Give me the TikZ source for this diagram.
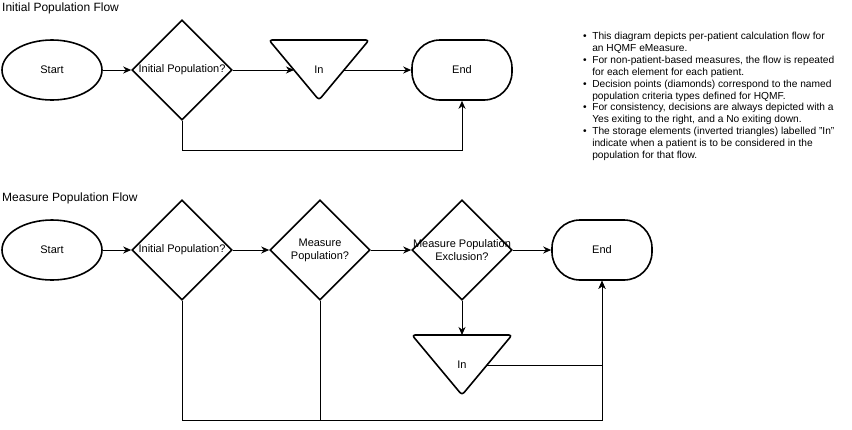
\documentclass[tikz,border=0pt]{standalone}
\usepackage{fontspec}
\setmainfont{Liberation Sans}
\usetikzlibrary{shapes.geometric,arrows.meta}
\begin{document}
\begin{tikzpicture}[x=1pt,y=-1pt,
  shp/.style={draw=black,line width=1.6pt},
  term/.style={shp,ellipse,minimum width=100pt,minimum height=60pt,inner sep=0pt,font=\fontsize{11}{13}\selectfont},
  endbox/.style={shp,rectangle,rounded corners=28pt,minimum width=100pt,minimum height=60pt,inner sep=0pt,font=\fontsize{11}{13}\selectfont},
  dia/.style={shp,diamond,shape aspect=1,minimum width=100pt,minimum height=100pt,inner sep=0pt},
  lbl/.style={font=\fontsize{11}{13}\selectfont,align=center,inner sep=0pt},
  ttl/.style={font=\fontsize{12}{14}\selectfont,anchor=west,inner sep=0pt},
  conn/.style={draw=black,line width=1pt,-{Stealth[length=8pt,width=7pt,inset=2.5pt]}},
  plain/.style={draw=black,line width=1pt},
  tri/.style={shp,rounded corners=3pt,line join=round}
]
\useasboundingbox (0,0) rectangle (852,429);

% ---------- Initial Population Flow ----------
\node[ttl] (t1) at (2,8) {Initial Population Flow};
\node[term] (s1) at (52,70) {Start};
\node[dia] (d1) at (182,70) {};
\node[lbl] (d1t) at (d1) {Initial Population?};
\draw[tri] (269,40) -- (369,40) -- (319,100) -- cycle;
\node[lbl] (in1) at (319,70) {In};
\coordinate (in1w) at (294,70);
\coordinate (in1e) at (344,70);
\node[endbox] (e1) at (462,70) {End};

\draw[conn] (s1.east) -- (d1.west);
\draw[conn] (d1.east) -- (in1w);
\draw[conn] (in1e) -- (e1.west);
\draw[conn] (d1.south) -- ++(0,30) -| (e1.south);

% ---------- Measure Population Flow ----------
\node[ttl] (t2) at (2,198) {Measure Population Flow};
\node[term] (s2) at (52,250) {Start};
\node[dia] (d21) at (182,250) {};
\node[lbl] (d21t) at (d21) {Initial Population?};
\node[dia] (d22) at (320,250) {};
\node[lbl] (d22t) at (d22) {Measure\\Population?};
\node[dia] (d23) at (462,250) {};
\node[lbl] (d23t) at (d23) {Measure Population\\Exclusion?};
\node[endbox] (e2) at (602,250) {End};
\draw[tri] (412,335) -- (512,335) -- (462,395) -- cycle;
\node[lbl] (in2) at (462,365) {In};
\coordinate (in2n) at (462,335);
\coordinate (in2e) at (487,365);
\coordinate (bot) at (0,420);

\draw[conn] (s2.east) -- (d21.west);
\draw[conn] (d21.east) -- (d22.west);
\draw[conn] (d22.east) -- (d23.west);
\draw[conn] (d23.east) -- (e2.west);
\draw[conn] (d23.south) -- (in2n);
\draw[conn] (in2e) -| (e2.south);
\draw[conn] (d21.south) -- (d21.south |- bot) -| (e2.south);
\draw[plain] (d22.south) -- (d22.south |- bot);

% ---------- Notes ----------
\node[anchor=north west,inner sep=0pt,font=\fontsize{10.2}{11.9}\selectfont] (notes) at (583,31) {%
\renewcommand{\arraystretch}{1}%
\begin{tabular}{@{}l@{\hspace{5.5pt}}l@{}}
\textbullet & This diagram depicts per-patient calculation flow for\\
 & an HQMF eMeasure.\\
\textbullet & For non-patient-based measures, the flow is repeated\\
 & for each element for each patient.\\
\textbullet & Decision points (diamonds) correspond to the named\\
 & population criteria types defined for HQMF.\\
\textbullet & For consistency, decisions are always depicted with a\\
 & Yes exiting to the right, and a No exiting down.\\
\textbullet & The storage elements (inverted triangles) labelled "In"\\
 & indicate when a patient is to be considered in the\\
 & population for that flow.
\end{tabular}};
\end{tikzpicture}
\end{document}
